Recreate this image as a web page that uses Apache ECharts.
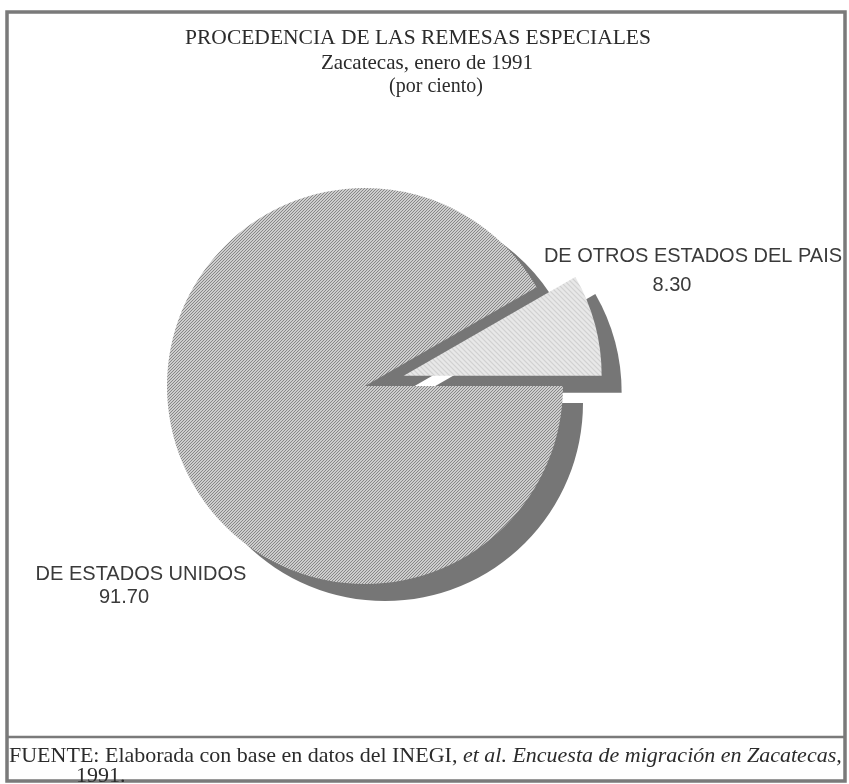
<!DOCTYPE html>
<html>
<head>
<meta charset="utf-8">
<script src="https://cdn.jsdelivr.net/npm/echarts@6/dist/echarts.min.js"></script>
<style>
html, body { margin: 0; padding: 0; background: #fff; }
#main { width: 849px; height: 784px; }
</style>
</head>
<body>
<div id="main"></div>
<script>
var categories = ['DE OTROS ESTADOS DEL PAIS', 'DE ESTADOS UNIDOS'];
var values = [8.30, 91.70];
var valueLabels = ['8.30', '91.70'];
var titleLines = ['PROCEDENCIA DE LAS REMESAS ESPECIALES', 'Zacatecas, enero de 1991', '(por ciento)'];
var sourceText = 'FUENTE: Elaborada con base en datos del INEGI, ';
var sourceItalic = 'et al. Encuesta de migración en Zacatecas,';
var sourceYear = '1991.';

// small tiles used as fills (hatching / stipple like the printed chart)
function makeTile(size, fn) {
    var c = document.createElement('canvas');
    c.width = size;
    c.height = size;
    var ctx = c.getContext('2d');
    for (var y = 0; y < size; y++) {
        for (var x = 0; x < size; x++) {
            ctx.fillStyle = fn(x, y);
            ctx.fillRect(x, y, 1, 1);
        }
    }
    return c;
}
var hatch = makeTile(6, function (x, y) { return (x + y) % 3 == 0 ? '#878787' : '#cdcdcd'; });
var stipple = makeTile(5, function (x, y) { return (x * 3 + y * 2) % 5 == 0 ? '#c2c2c2' : '#e8e8e8'; });

var total = values.reduce(function (a, b) { return a + b; }, 0);
var startAngle = values[0] / total * 360;
var pieCenter = [365, 386];
var shadowShift = [20, 17];

var chart = echarts.init(document.getElementById('main'));

function pieData(colors) {
    return categories.map(function (name, i) {
        return {
            name: name,
            value: values[i],
            selected: i === 0,
            itemStyle: { color: colors[i] }
        };
    });
}

var labelFont = { fontFamily: 'Liberation Sans', fontSize: 20, fill: '#3a3a3a' };
function labelText(i, x, y) {
    return {
        type: 'text',
        x: x, y: y,
        silent: true,
        style: Object.assign({ text: i, align: 'center', verticalAlign: 'middle' }, labelFont)
    };
}

var option = {
    backgroundColor: '#fff',
    animation: false,
    title: [
        {
            text: titleLines[0], left: 418, top: 27, textAlign: 'center', padding: 0,
            textStyle: { fontFamily: 'Liberation Serif', fontWeight: 'normal', fontSize: 21.5, color: '#2b2b2b' }
        },
        {
            text: titleLines[1], left: 427, top: 53, textAlign: 'center', padding: 0,
            textStyle: { fontFamily: 'Liberation Serif', fontWeight: 'normal', fontSize: 21, color: '#2b2b2b' }
        },
        {
            text: titleLines[2], left: 436, top: 77, textAlign: 'center', padding: 0,
            textStyle: { fontFamily: 'Liberation Serif', fontWeight: 'normal', fontSize: 20, color: '#2b2b2b' }
        }
    ],
    series: [
        { // shadow
            type: 'pie',
            silent: true,
            center: [pieCenter[0] + shadowShift[0], pieCenter[1] + shadowShift[1]],
            radius: 198,
            startAngle: startAngle,
            clockwise: true,
            selectedMode: 'single',
            selectedOffset: 40,
            label: { show: false },
            labelLine: { show: false },
            emphasis: { disabled: true },
            data: pieData(['#767676', '#767676'])
        },
        {
            type: 'pie',
            silent: true,
            center: pieCenter,
            radius: 198,
            startAngle: startAngle,
            clockwise: true,
            selectedMode: 'single',
            selectedOffset: 40,
            emphasis: { disabled: true },
            label: { show: false },
            labelLine: { show: false },
            data: pieData([
                { image: stipple, repeat: 'repeat' },
                { image: hatch, repeat: 'repeat' }
            ])
        }
    ],
    graphic: [
        {
            type: 'rect',
            shape: { x: 7, y: 12, width: 838, height: 769 },
            style: { fill: null, stroke: '#7a7a7a', lineWidth: 3.5 },
            silent: true
        },
        {
            type: 'line',
            shape: { x1: 7, y1: 737, x2: 845, y2: 737 },
            style: { stroke: '#7a7a7a', lineWidth: 2.5 },
            silent: true
        },
        // slice labels
        labelText(categories[0], 693, 256),
        labelText(valueLabels[0], 672, 285),
        labelText(categories[1], 141, 574),
        labelText(valueLabels[1], 124, 597),
        // source note
        {
            type: 'text',
            x: 9,
            y: 756,
            silent: true,
            style: {
                text: '{n|' + sourceText + '}{i|' + sourceItalic + '}',
                verticalAlign: 'middle',
                rich: {
                    n: { fontFamily: 'Liberation Serif', fontSize: 22, fill: '#2b2b2b' },
                    i: { fontFamily: 'Liberation Serif', fontStyle: 'italic', fontSize: 22, fill: '#2b2b2b' }
                }
            }
        },
        {
            type: 'text',
            x: 76,
            y: 776,
            silent: true,
            style: { text: sourceYear, verticalAlign: 'middle', fontFamily: 'Liberation Serif', fontSize: 22, fill: '#2b2b2b' }
        }
    ]
};
chart.setOption(option);
</script>
</body>
</html>
